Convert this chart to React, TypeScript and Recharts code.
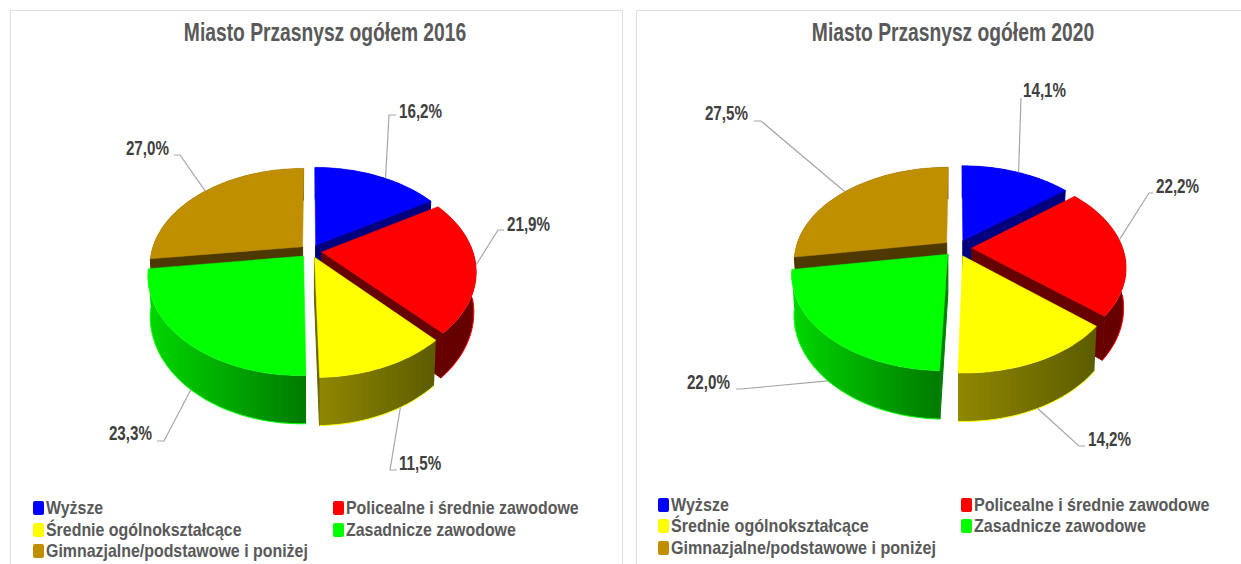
import { PieChart, Pie } from 'recharts';

const categories = ['Wyższe', 'Policealne i średnie zawodowe', 'Średnie ogólnokształcące', 'Zasadnicze zawodowe', 'Gimnazjalne/podstawowe i poniżej'];
const values2016 = [16.2, 21.9, 11.5, 23.3, 27.0];
const values2020 = [14.1, 22.2, 14.2, 22.0, 27.5];

const topColors = ['#0000ff', '#ff0000', '#ffff00', '#00ff00', '#bf8f00'];
const cutColors = ['#00007f', '#660000', '#666600', '#007f00', '#4d3900'];
const wallFrom = ['#00007f', '#660000', '#8f8700', '#00d800', '#4d3900'];
const wallTo = ['#00007f', '#660000', '#5c5c00', '#007a00', '#4d3900'];

// how far each slice is pulled out of the pie
const explode = [0.07, 0.075, 0.07, 0.07, 0.07];

// fake perspective of the 3D pie
const K = 0.19;
const DEPTH = 0.255;
const FONT = '"Liberation Sans", Arial, sans-serif';

const layout2016 = [
  { elbow: [389, 115], end: [396, 115], text: [399, 111], anchor: 'start', nudge: 4 },
  { elbow: [498, 230], end: [504, 230], text: [507, 224], anchor: 'start', nudge: 0 },
  { elbow: [390, 470], end: [397, 470], text: [399, 463], anchor: 'start', nudge: -6 },
  { elbow: [164, 441], end: [157, 441], text: [152, 433], anchor: 'end', nudge: -1.5 },
  { elbow: [180, 155], end: [174, 155], text: [169, 148], anchor: 'end', nudge: 1 },
];
const layout2020 = [
  { elbow: [396, 98], end: [396, 98], text: [398, 90], anchor: 'start', nudge: 1 },
  { elbow: [524, 193], end: [528, 193], text: [531, 186], anchor: 'start', nudge: -6 },
  { elbow: [454, 446], end: [460, 446], text: [463, 439], anchor: 'start', nudge: 0 },
  { elbow: [116, 389], end: [111, 389], text: [105, 382], anchor: 'end', nudge: 1 },
  { elbow: [136, 121], end: [129, 121], text: [123, 113], anchor: 'end', nudge: -1 },
];

const point = (cx: number, cy: number, R: number, flat: number, theta: number, off: number[], radius: number, drop: number) => {
  const rad = (theta * Math.PI) / 180;
  const u = off[0] + radius * Math.sin(rad);
  const v = off[1] + radius * Math.cos(rad);
  const w = 1 + K * v;
  const shrink = 1 - 0.015 * drop;
  return [cx + (R * u * shrink) / w, cy - (R * flat * v) / w + (drop * DEPTH * R) / w];
};

const offsetOf = (index: number, midTheta: number, pull: number) => {
  const rad = (midTheta * Math.PI) / 180;
  return [pull * explode[index] * Math.sin(rad), pull * explode[index] * Math.cos(rad)];
};

const arcPoints = (from: number, to: number, step = 2) => {
  const out: number[] = [];
  for (let t = from; t < to; t += step) out.push(t);
  out.push(to);
  return out;
};

const toLine = (pts: number[][]) => 'M' + pts.map((p) => `${p[0].toFixed(1)},${p[1].toFixed(1)}`).join('L');
const toPath = (pts: number[][]) => toLine(pts) + 'Z';

const sliceAngles = (props: any) => {
  const a = 90 - props.startAngle;
  const b = 90 - props.endAngle;
  return [a, b];
};

const WallSlice = (props: any) => {
  const { cx, cy, outerRadius: R, index, prefix, flat, pull } = props;
  const [a, b] = sliceAngles(props);
  const off = offsetOf(index, (a + b) / 2, pull);
  const p = (t: number, r: number, d: number) => point(cx, cy, R, flat, t, off, r, d);
  const faces: any[] = [];
  if (Math.sin((a * Math.PI) / 180) < 0) {
    faces.push(<path key="s" d={toPath([p(a, 0, 0), p(a, 1, 0), p(a, 1, 1), p(a, 0, 1)])} fill={cutColors[index]} stroke={cutColors[index]} />);
  }
  if (Math.sin((b * Math.PI) / 180) > 0) {
    faces.push(<path key="e" d={toPath([p(b, 0, 0), p(b, 1, 0), p(b, 1, 1), p(b, 0, 1)])} fill={cutColors[index]} stroke={cutColors[index]} />);
  }
  const angles = arcPoints(a, b);
  const bottom = angles.map((t) => p(t, 1, 1));
  const rim = [...angles.map((t) => p(t, 1, 0)), ...bottom.slice().reverse()];
  // only the front part of the lower edge gets the bright outline
  const frontEdge = angles.filter((t) => Math.cos((t * Math.PI) / 180) < -0.05).map((t) => p(t, 1, 1));
  return (
    <g>
      {faces}
      <path d={toPath(rim)} fill={`url(#${prefix}-wall-${index})`} />
      {frontEdge.length > 1 && <path d={toLine(frontEdge)} fill="none" stroke={topColors[index]} strokeWidth={1} />}
    </g>
  );
};

const TopSlice = (props: any) => {
  const { cx, cy, outerRadius: R, index, flat, pull } = props;
  const [a, b] = sliceAngles(props);
  const off = offsetOf(index, (a + b) / 2, pull);
  const pts = [point(cx, cy, R, flat, a, off, 0, 0), ...arcPoints(a, b).map((t) => point(cx, cy, R, flat, t, off, 1, 0))];
  return <path d={toPath(pts)} fill={topColors[index]} stroke={topColors[index]} strokeWidth={0.5} />;
};

const SliceLabel = (props: any) => {
  const { cx, cy, outerRadius: R, midAngle, index, value, layout, flat, pull } = props;
  const item = layout[index];
  const mid = 90 - midAngle;
  const off = offsetOf(index, mid, pull);
  const theta = mid + item.nudge;
  const front = Math.cos((theta * Math.PI) / 180) < -0.3;
  const s = point(cx, cy, R, flat, theta, off, 1, front ? 1 : 0);
  const line = [s, item.elbow, item.end].map((q: number[]) => q.join(',')).join(' ');
  return (
    <g>
      <polyline points={line} fill="none" stroke="#a6a6a6" strokeWidth={1.2} />
      <text
        transform={`translate(${item.text[0]},${item.text[1] + 7}) scale(0.76,1)`}
        textAnchor={item.anchor}
        fontFamily={FONT}
        fontWeight="bold"
        fontSize={20}
        fill="#404040"
      >
        {value.toFixed(1).replace('.', ',') + '%'}
      </text>
    </g>
  );
};

const ChartLegend = ({ rows, col2, sx }: { rows: number[]; col2: number; sx: number }) => (
  <g>
    {categories.map((name, i) => {
      const x = i % 2 === 0 ? 33 : col2;
      const y = rows[Math.floor(i / 2)];
      return (
        <g key={name}>
          <rect x={x} y={y - 7} width={11} height={14} rx={2} fill={topColors[i]} />
          <text
            transform={`translate(${x + 13},${y + 6}) scale(${sx},1)`}
            fontFamily={FONT}
            fontSize={18}
            fontWeight="bold"
            fill="#595959"
          >
            {name}
          </text>
        </g>
      );
    })}
  </g>
);

const PiePanel = ({ title, values, left, width, panelLeft, panelWidth, cx, cy, R, flat, pull, titleX, rows, col2, sx, layout, prefix }: any) => {
  const data = categories.map((name, i) => ({ name, value: values[i] }));
  return (
    <div style={{ position: 'absolute', left, top: 0, width, height: 564 }}>
      <div style={{ position: 'absolute', left: panelLeft, top: 10, width: panelWidth, height: 570, border: '1.5px solid #dedede', boxSizing: 'border-box' }} />
      <div style={{ position: 'absolute', left: 0, top: 0 }}>
        <PieChart width={width} height={564} margin={{ top: 0, right: 0, bottom: 0, left: 0 }}>
          <defs>
            {categories.map((c, i) => (
              <linearGradient key={c} id={`${prefix}-wall-${i}`} x1="0" y1="0" x2="1" y2="0">
                <stop offset="0%" stopColor={wallFrom[i]} />
                <stop offset="100%" stopColor={wallTo[i]} />
              </linearGradient>
            ))}
          </defs>
          <text
            transform={`translate(${titleX},41) scale(0.77,1)`}
            textAnchor="middle"
            fontFamily={FONT}
            fontWeight="bold"
            fontSize={25}
            fill="#595959"
          >
            {title}
          </text>
          <Pie
            data={data}
            dataKey="value"
            nameKey="name"
            cx={cx}
            cy={cy}
            outerRadius={R}
            startAngle={90}
            endAngle={-270}
            isAnimationActive={false}
            shape={(p: any) => <WallSlice {...p} prefix={prefix} flat={flat} pull={pull} />}
          />
          <Pie
            data={data}
            dataKey="value"
            nameKey="name"
            cx={cx}
            cy={cy}
            outerRadius={R}
            startAngle={90}
            endAngle={-270}
            isAnimationActive={false}
            labelLine={false}
            label={(p: any) => <SliceLabel {...p} layout={layout} flat={flat} pull={pull} />}
            shape={(p: any) => <TopSlice {...p} flat={flat} pull={pull} />}
          />
          <ChartLegend rows={rows} col2={col2} sx={sx} />
        </PieChart>
      </div>
    </div>
  );
};

export default function App() {
  return (
    <div style={{ position: 'absolute', left: 0, top: 0, width: 1241, height: 564, overflow: 'hidden', background: '#fff' }}>
      <PiePanel title="Miasto Przasnysz ogółem 2016" values={values2016} left={0} width={625} panelLeft={10} panelWidth={613} cx={310.5} cy={251} R={151} flat={0.627} pull={1} titleX={325} rows={[508, 530, 551]} col2={333} sx={0.885} layout={layout2016} prefix="a" />
      <PiePanel title="Miasto Przasnysz ogółem 2020" values={values2020} left={625} width={616} panelLeft={11} panelWidth={640} cx={332} cy={248} R={151} flat={0.607} pull={1.3} titleX={328} rows={[505, 526, 548]} col2={336} sx={0.895} layout={layout2020} prefix="b" />
    </div>
  );
}
